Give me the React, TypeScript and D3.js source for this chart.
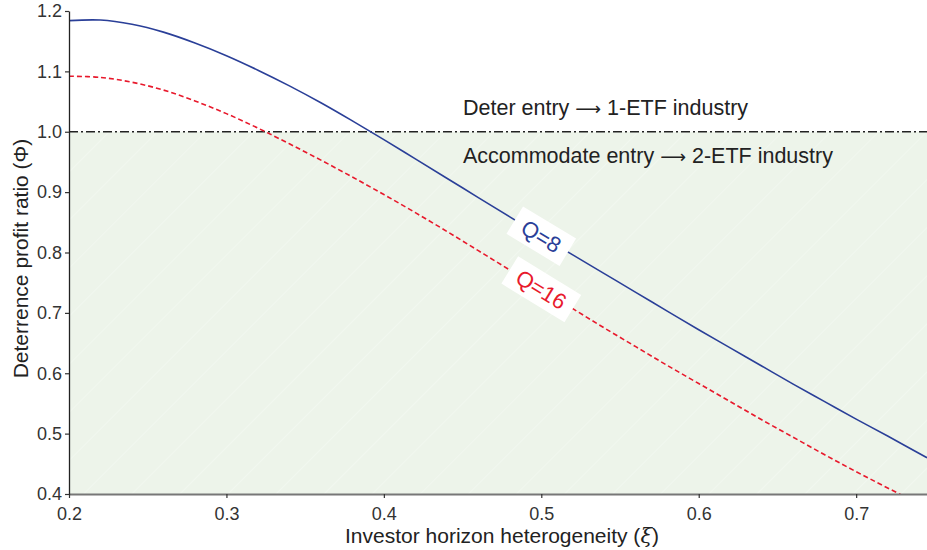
import React, { useEffect, useRef } from "react";
import * as d3 from "d3";

// investor horizon heterogeneity (xi)
const xiValues = [
  0.2, 0.22, 0.24, 0.26, 0.28, 0.3, 0.32, 0.34, 0.36, 0.38, 0.4, 0.42, 0.44, 0.46, 0.48, 0.5,
  0.52, 0.54, 0.56, 0.58, 0.6, 0.62, 0.64, 0.66, 0.68, 0.7, 0.72, 0.745,
];
// deterrence profit ratio, Q = 8
const phiQ8 = [
  1.184, 1.185, 1.178, 1.165, 1.147, 1.126, 1.102, 1.076, 1.048, 1.018, 0.987, 0.955, 0.923, 0.891,
  0.859, 0.827, 0.796, 0.765, 0.734, 0.703, 0.672, 0.642, 0.612, 0.582, 0.553, 0.524, 0.496, 0.46,
];
// deterrence profit ratio, Q = 16
const phiQ16 = [
  1.092, 1.09, 1.082, 1.069, 1.051, 1.03, 1.006, 0.98, 0.953, 0.925, 0.896, 0.866, 0.835, 0.803,
  0.771, 0.739, 0.707, 0.675, 0.644, 0.613, 0.583, 0.553, 0.523, 0.494, 0.465, 0.437, 0.41, 0.377,
];

const xTicks = [0.2, 0.3, 0.4, 0.5, 0.6, 0.7];
const yTicks = [0.4, 0.5, 0.6, 0.7, 0.8, 0.9, 1.0, 1.1, 1.2];

const seriesNames = ["Q=8", "Q=16"];
const labelAt = 0.5;

const width = 927;
const height = 550;
const margin = { top: 11, right: 0, bottom: 56, left: 69 };
const font = "'Liberation Sans', Arial, Helvetica, sans-serif";

const App = () => {
  const svgRef = useRef<SVGSVGElement>(null);

  useEffect(() => {
    const svg = d3.select(svgRef.current);
    svg.selectAll("*").remove();

    const x = d3
      .scaleLinear()
      .domain([0.2, 0.745])
      .range([margin.left, width - margin.right]);
    const y = d3
      .scaleLinear()
      .domain([0.4, 1.2])
      .range([height - margin.bottom, margin.top]);

    const defs = svg.append("defs");
    defs
      .append("clipPath")
      .attr("id", "plot-clip")
      .append("rect")
      .attr("x", x(0.2))
      .attr("y", y(1.2))
      .attr("width", x(0.745) - x(0.2))
      .attr("height", y(0.4) - y(1.2));

    // faint hatching inside the "accommodate" region
    const pat = defs
      .append("pattern")
      .attr("id", "hatch")
      .attr("patternUnits", "userSpaceOnUse")
      .attr("width", 34)
      .attr("height", 34)
      .attr("patternTransform", "rotate(45)");
    pat.append("rect").attr("width", 34).attr("height", 34).attr("fill", "#edf4ea");
    pat
      .append("line")
      .attr("x1", 0)
      .attr("y1", 0)
      .attr("x2", 0)
      .attr("y2", 34)
      .attr("stroke", "#f6faf4")
      .attr("stroke-width", 1);

    svg
      .append("rect")
      .attr("x", x(0.2))
      .attr("y", y(1.0))
      .attr("width", x(0.745) - x(0.2))
      .attr("height", y(0.4) - y(1.0))
      .attr("fill", "url(#hatch)");

    // threshold line
    svg
      .append("line")
      .attr("x1", x(0.2))
      .attr("x2", x(0.745))
      .attr("y1", y(1.0))
      .attr("y2", y(1.0))
      .attr("stroke", "#222")
      .attr("stroke-width", 1.5)
      .attr("stroke-dasharray", "9,3,2,3");

    const line = d3
      .line<number>()
      .x((_, i) => x(xiValues[i]))
      .y((d) => y(d))
      .curve(d3.curveCatmullRom.alpha(0.5));

    const plot = svg.append("g").attr("clip-path", "url(#plot-clip)");
    plot
      .append("path")
      .attr("d", line(phiQ16))
      .attr("fill", "none")
      .attr("stroke", "#e8192c")
      .attr("stroke-width", 1.6)
      .attr("stroke-dasharray", "5,3");
    plot
      .append("path")
      .attr("d", line(phiQ8))
      .attr("fill", "none")
      .attr("stroke", "#2a3f98")
      .attr("stroke-width", 1.6);

    // inline curve labels
    const series = [
      { name: seriesNames[0], values: phiQ8, color: "#2a3f98", w: 62 },
      { name: seriesNames[1], values: phiQ16, color: "#e8192c", w: 74 },
    ];
    series.forEach((s) => {
      const i = xiValues.indexOf(labelAt);
      const px = x(labelAt);
      const py = y(s.values[i]);
      const dx = x(xiValues[i + 1]) - x(xiValues[i - 1]);
      const dy = y(s.values[i + 1]) - y(s.values[i - 1]);
      const angle = (Math.atan2(dy, dx) * 180) / Math.PI;
      const g = svg.append("g").attr("transform", `translate(${px},${py}) rotate(${angle})`);
      g.append("rect")
        .attr("x", -s.w / 2)
        .attr("y", -16)
        .attr("width", s.w)
        .attr("height", 32)
        .attr("fill", "white");
      g.append("text")
        .attr("text-anchor", "middle")
        .attr("dy", "0.36em")
        .style("font-family", font)
        .style("font-size", "22px")
        .attr("fill", s.color)
        .text(s.name);
    });

    // region annotations
    const annot = (yy: number, before: string, after: string) => {
      const t = svg
        .append("text")
        .attr("x", 463)
        .attr("y", yy)
        .style("font-family", font)
        .style("font-size", "21.5px")
        .attr("fill", "#222");
      t.append("tspan").text(before);
      t.append("tspan")
        .style("font-family", "'DejaVu Sans', sans-serif")
        .style("font-size", "18px")
        .text("\u27f6");
      t.append("tspan").text(after);
    };
    annot(y(1.0) - 17, "Deter entry ", " 1-ETF industry");
    annot(y(1.0) + 31, "Accommodate entry ", " 2-ETF industry");

    // axes
    const xAxis = svg
      .append("g")
      .attr("transform", `translate(0,${y(0.4)})`)
      .call(
        d3
          .axisBottom(x)
          .tickValues(xTicks)
          .tickSize(4)
          .tickSizeOuter(0)
          .tickFormat(d3.format(".1f"))
      );
    xAxis.select(".domain").attr("stroke", "#777").attr("stroke-width", 2);
    xAxis.selectAll(".tick line").attr("stroke", "#333").attr("stroke-width", 1.2);
    xAxis
      .selectAll(".tick text")
      .style("font-family", font)
      .style("font-size", "18px")
      .attr("fill", "#333")
      .attr("dy", "1.08em");

    const yAxis = svg
      .append("g")
      .attr("transform", `translate(${x(0.2)},0)`)
      .call(
        d3
          .axisLeft(y)
          .tickValues(yTicks)
          .tickSize(4)
          .tickSizeOuter(0)
          .tickFormat(d3.format(".1f"))
      );
    yAxis.select(".domain").attr("stroke", "#222").attr("stroke-width", 1.3);
    yAxis.selectAll(".tick line").attr("stroke", "#333").attr("stroke-width", 1.2);
    yAxis
      .selectAll(".tick text")
      .style("font-family", font)
      .style("font-size", "18px")
      .attr("fill", "#333")
      .attr("x", -7);

    // axis titles
    const xt = svg
      .append("text")
      .attr("x", (x(0.2) + x(0.745)) / 2 + 4)
      .attr("y", 543)
      .attr("text-anchor", "middle")
      .style("font-family", font)
      .style("font-size", "21px")
      .attr("fill", "#222");
    xt.append("tspan").text("Investor horizon heterogeneity (");
    xt.append("tspan")
      .style("font-style", "italic")
      .style("font-family", "'DejaVu Serif', serif")
      .text("\u03be");
    xt.append("tspan").text(")");

    svg
      .append("text")
      .attr("transform", `translate(28,${(y(0.4) + y(1.2)) / 2 + 6}) rotate(-90)`)
      .attr("text-anchor", "middle")
      .style("font-family", font)
      .style("font-size", "21px")
      .attr("fill", "#222")
      .text("Deterrence profit ratio (\u03a6)");
  }, []);

  return (
    <svg
      ref={svgRef}
      width={width}
      height={height}
      style={{ position: "absolute", left: 0, top: 0, background: "white" }}
    />
  );
};

export default App;
